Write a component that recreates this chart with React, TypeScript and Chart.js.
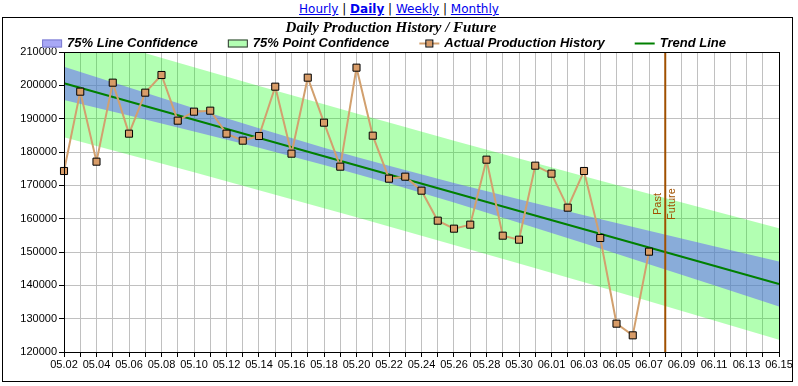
import React, { useEffect, useRef } from 'react';
import { Chart, registerables } from 'chart.js';

Chart.register(...registerables);

// ---------- data ----------
const dateLabels = [
  '05.02', '05.03', '05.04', '05.05', '05.06', '05.07', '05.08', '05.09', '05.10', '05.11',
  '05.12', '05.13', '05.14', '05.15', '05.16', '05.17', '05.18', '05.19', '05.20', '05.21',
  '05.22', '05.23', '05.24', '05.25', '05.26', '05.27', '05.28', '05.29', '05.30', '05.31',
  '06.01', '06.02', '06.03', '06.04', '06.05', '06.06', '06.07', '06.08', '06.09', '06.10',
  '06.11', '06.12', '06.13', '06.14', '06.15',
];

const actualProduction = [
  174300, 198100, 177100, 200800, 185500, 197800, 203100, 189400, 192100, 192400,
  185500, 183400, 184800, 199600, 179500, 202300, 188800, 175600, 205300, 184900,
  172000, 172600, 168400, 159400, 157000, 158200, 177700, 154900, 153700, 175900,
  173500, 163300, 174300, 154200, 128500, 125000, 150100,
];

const trendDates = ['05.02', '06.15'];
const trendValues = [200600, 140400];

const bandDates = ['05.02', '05.06', '05.10', '05.14', '05.18', '05.20', '05.22', '05.26', '05.30', '06.03', '06.07', '06.11', '06.15'];
const lineConfUpper = [205600, 199340, 193160, 187110, 181310, 178530, 175840, 170700, 165800, 161040, 156360, 151730, 147130];
const lineConfLower = [195600, 190920, 186160, 181260, 176110, 173420, 170640, 164840, 158800, 152610, 146350, 140030, 133680];
const pointConfUpper = [216740, 211060, 205420, 199830, 194300, 191560, 188830, 183410, 178060, 172750, 167490, 162310, 157160];
const pointConfLower = [184460, 179200, 173900, 168540, 163130, 160400, 157650, 152120, 146540, 140890, 135210, 129450, 123660];

const pastFutureDate = '06.08';
const yMin = 120000;
const yMax = 210000;
const yStep = 10000;

const chartTitle = 'Daily Production History / Future';
const navLinks = ['Hourly', 'Daily', 'Weekly', 'Monthly'];
const activeLink = 'Daily';

// ---------- styles ----------
const GREEN_BAND = 'rgba(0,255,0,0.3)';
const BLUE_BAND = 'rgba(95,90,255,0.5)';
const ACTUAL_LINE = '#d2a06e';
const ACTUAL_MARK = '#d89c68';
const TREND = '#008000';
const PF_COLOR = '#a05000';

const legendItems = [
  { text: '75% Line Confidence', kind: 'box', fill: '#a8a8f6', stroke: '#7c7cd0' },
  { text: '75% Point Confidence', kind: 'box', fill: '#b3ffb3', stroke: '#333333' },
  { text: 'Actual Production History', kind: 'marker', fill: ACTUAL_MARK, stroke: ACTUAL_LINE },
  { text: 'Trend Line', kind: 'line', fill: TREND, stroke: TREND },
];

const toPoints = (xs: string[], ys: number[]) => xs.map((x, i) => ({ x, y: ys[i] }));

const legendPlugin = {
  id: 'customLegend',
  afterDraw(chart: any) {
    const ctx = chart.ctx as CanvasRenderingContext2D;
    ctx.save();
    ctx.font = 'italic bold 13px "Liberation Sans"';
    const symW = 20;
    const gapText = 5;
    const gapItem = 30;
    const widths = legendItems.map((it) => symW + gapText + ctx.measureText(it.text).width);
    const total = widths.reduce((a, b) => a + b, 0) + gapItem * (legendItems.length - 1);
    let x = 381 - total / 2;
    const y = 25.5;
    legendItems.forEach((it, i) => {
      if (it.kind === 'box') {
        ctx.fillStyle = it.fill;
        ctx.fillRect(x, y - 4, symW, 8);
        ctx.strokeStyle = it.stroke;
        ctx.lineWidth = 1;
        ctx.strokeRect(x + 0.5, y - 3.5, symW - 1, 7);
      } else {
        ctx.strokeStyle = it.stroke;
        ctx.lineWidth = 2;
        ctx.beginPath();
        ctx.moveTo(x, y);
        ctx.lineTo(x + symW, y);
        ctx.stroke();
        if (it.kind === 'marker') {
          ctx.fillStyle = it.fill;
          ctx.fillRect(x + symW / 2 - 3, y - 3, 6, 6);
          ctx.strokeStyle = '#000';
          ctx.lineWidth = 1;
          ctx.strokeRect(x + symW / 2 - 3.5, y - 3.5, 7, 7);
        }
      }
      ctx.fillStyle = '#000';
      ctx.textAlign = 'left';
      ctx.textBaseline = 'middle';
      ctx.fillText(it.text, x + symW + gapText, y);
      x += widths[i] + gapItem;
    });
    ctx.restore();
  },
};

const frameAndMarkerPlugin = {
  id: 'frameAndMarker',
  afterDatasetsDraw(chart: any) {
    const ctx = chart.ctx as CanvasRenderingContext2D;
    const { top, bottom, left, right } = chart.chartArea;
    const xs = chart.scales.x;
    const px = xs.getPixelForValue(dateLabels.indexOf(pastFutureDate));
    ctx.save();
    ctx.strokeStyle = PF_COLOR;
    ctx.lineWidth = 2;
    ctx.beginPath();
    ctx.moveTo(px, top);
    ctx.lineTo(px, bottom);
    ctx.stroke();
    ctx.fillStyle = PF_COLOR;
    ctx.font = '11px "Liberation Sans"';
    ctx.textAlign = 'center';
    ctx.textBaseline = 'middle';
    const cy = (top + bottom) / 2 + 2;
    ctx.translate(px - 7, cy);
    ctx.rotate(-Math.PI / 2);
    ctx.fillText('Past', 0, 0);
    ctx.rotate(Math.PI / 2);
    ctx.translate(14, 0);
    ctx.rotate(-Math.PI / 2);
    ctx.fillText('Future', 0, 0);
    ctx.restore();

    ctx.save();
    ctx.strokeStyle = '#000';
    ctx.lineWidth = 1;
    ctx.strokeRect(Math.round(left) + 0.5, Math.round(top) + 0.5, Math.round(right - left), Math.round(bottom - top));
    ctx.restore();
  },
};

export default function App() {
  const ref = useRef<HTMLCanvasElement>(null);

  useEffect(() => {
    const canvas = ref.current;
    if (!canvas) return;
    Chart.defaults.font.family = '"Liberation Sans"';
    const tickFont = { family: '"Liberation Sans"', size: 11 };
    const chart = new Chart(canvas, {
      type: 'line',
      data: {
        labels: dateLabels,
        datasets: [
          {
            label: '75% Point Confidence',
            data: toPoints(bandDates, pointConfUpper),
            fill: '+1',
            backgroundColor: GREEN_BAND,
            borderColor: 'transparent',
            borderWidth: 0,
            pointRadius: 0,
            order: 5,
          },
          {
            label: '75% Point Confidence (lower)',
            data: toPoints(bandDates, pointConfLower),
            fill: false,
            borderColor: 'transparent',
            borderWidth: 0,
            pointRadius: 0,
            order: 5,
          },
          {
            label: '75% Line Confidence',
            data: toPoints(bandDates, lineConfUpper),
            fill: '+1',
            backgroundColor: BLUE_BAND,
            borderColor: 'transparent',
            borderWidth: 0,
            pointRadius: 0,
            order: 4,
          },
          {
            label: '75% Line Confidence (lower)',
            data: toPoints(bandDates, lineConfLower),
            fill: false,
            borderColor: 'transparent',
            borderWidth: 0,
            pointRadius: 0,
            order: 4,
          },
          {
            label: 'Trend Line',
            data: toPoints(trendDates, trendValues),
            borderColor: TREND,
            borderWidth: 2,
            pointRadius: 0,
            fill: false,
            order: 2,
          },
          {
            label: 'Actual Production History',
            data: actualProduction,
            borderColor: ACTUAL_LINE,
            borderWidth: 2,
            pointStyle: 'rect',
            pointRadius: 5,
            pointBackgroundColor: ACTUAL_MARK,
            pointBorderColor: '#000',
            pointBorderWidth: 1,
            fill: false,
            tension: 0,
            order: 1,
          },
        ],
      },
      options: {
        responsive: false,
        animation: false,
        events: [],
        layout: { padding: { left: 0, right: 13, top: 0, bottom: 0 } },
        plugins: {
          legend: { display: false },
          tooltip: { enabled: false },
          title: {
            display: true,
            text: chartTitle,
            color: '#000',
            font: { family: '"Liberation Serif"', size: 15, style: 'italic', weight: 'bold' },
            padding: { top: 1, bottom: 15 },
          },
        },
        scales: {
          x: {
            type: 'category',
            offset: false,
            grid: { color: '#c0c0c0', tickColor: '#000', tickLength: 5, drawTicks: true },
            border: { color: '#000', width: 1 },
            ticks: {
              autoSkip: false,
              maxRotation: 0,
              minRotation: 0,
              padding: 1,
              color: '#000',
              font: tickFont,
              callback: (_v: any, i: number) => (i % 2 === 0 ? dateLabels[i] : ''),
            },
            afterFit: (s: any) => {
              s.height = 29;
              s.paddingRight = 0;
              s.paddingLeft = 0;
            },
          },
          y: {
            min: yMin,
            max: yMax,
            grid: { color: '#c0c0c0', tickColor: '#000', tickLength: 5 },
            border: { color: '#000', width: 1 },
            ticks: {
              stepSize: yStep,
              padding: 2,
              color: '#000',
              font: tickFont,
              callback: (v: any) => String(v),
            },
            afterFit: (s: any) => {
              s.width = 61;
            },
          },
        },
      },
      plugins: [legendPlugin, frameAndMarkerPlugin],
    } as any);
    return () => chart.destroy();
  }, []);

  return (
    <div style={{ position: 'absolute', left: 0, top: 0, width: 798, height: 386, background: '#fff', overflow: 'hidden' }}>
      <div
        style={{
          position: 'absolute',
          top: 2,
          left: 0,
          width: 798,
          textAlign: 'center',
          font: '12px "DejaVu Sans"',
          lineHeight: '14px',
          color: '#000',
        }}
      >
        {navLinks.map((n, i) => (
          <React.Fragment key={n}>
            {i > 0 ? ' | ' : ''}
            <a href="#" style={{ color: '#0000ee', fontWeight: n === activeLink ? 'bold' : 'normal' }}>
              {n}
            </a>
          </React.Fragment>
        ))}
      </div>
      <div
        style={{
          position: 'absolute',
          left: 2,
          top: 17,
          width: 789,
          height: 363,
          border: '1px solid #000',
        }}
      >
        <canvas ref={ref} width={789} height={363} style={{ display: 'block', width: 789, height: 363 }} />
      </div>
    </div>
  );
}
